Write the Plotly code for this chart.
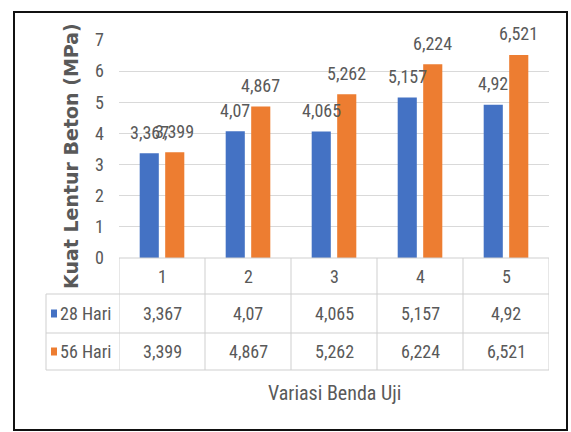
import plotly.graph_objects as go

# ---- data ----
categories = [1, 2, 3, 4, 5]
cat_labels = ["1", "2", "3", "4", "5"]
series_names = ["28 Hari", "56 Hari"]
hari28 = [3.367, 4.07, 4.065, 5.157, 4.92]
hari56 = [3.399, 4.867, 5.262, 6.224, 6.521]
y_ticks = [0, 1, 2, 3, 4, 5, 6, 7]
y_title = "Kuat Lentur Beton (MPa)"
x_title = "Variasi Benda Uji"

# ---- style ----
BLUE = "#4472C4"
ORANGE = "#ED7D31"
TXT = "#595959"
GRID = "#D9D9D9"
TLINE = "#CFCFCF"
NARROW = "Liberation Sans Narrow, Arial Narrow, Roboto Condensed, Roboto, sans-serif"

W, H = 571, 432
L, R, T, B = 119, 22, 40, 174
PW = W - L - R
PH = H - T - B


def px(x):
    return (x - L) / PW


def py(y):
    return (H - B - y) / PH


def fmt(v):
    return str(v).replace(".", ",")


fig = go.Figure()
for name, vals, col in [(series_names[0], hari28, BLUE), (series_names[1], hari56, ORANGE)]:
    fig.add_trace(go.Bar(x=categories, y=vals, name=name, marker=dict(color=col, line_width=0),
                         showlegend=False, hoverinfo="skip"))

annotations = []
shapes = []
# data labels
for vals, dx in [(hari28, -12.75), (hari56, 12.75)]:
    for c, v in zip(categories, vals):
        annotations.append(dict(x=c, y=v, xref="x", yref="y", text=fmt(v), showarrow=False,
                                xshift=dx, yshift=21, xanchor="center", yanchor="middle",
                                font=dict(family=NARROW, size=18, color=TXT)))

# data table
row_top = [258, 294, 333, 370]
y_rows = [py(v) for v in row_top]
shapes.append(dict(type="line", xref="x", yref="paper", x0=0.5, x1=5.5, y0=y_rows[0], y1=y_rows[0],
                   line=dict(color=TLINE, width=1)))
for yy in y_rows[1:]:
    shapes.append(dict(type="line", xref="paper", yref="paper", x0=px(46), x1=1, y0=yy, y1=yy,
                       line=dict(color=TLINE, width=1)))
for i in range(6):
    shapes.append(dict(type="line", xref="x", yref="paper", x0=0.5 + i, x1=0.5 + i,
                       y0=y_rows[0], y1=y_rows[3], line=dict(color=TLINE, width=1)))
shapes.append(dict(type="line", xref="paper", yref="paper", x0=px(46), x1=px(46),
                   y0=y_rows[1], y1=y_rows[3], line=dict(color=TLINE, width=1)))

row_centers = [(row_top[k] + row_top[k + 1]) / 2 for k in range(3)]
for c, lab in zip(categories, cat_labels):
    annotations.append(dict(x=c, y=py(row_centers[0]), xref="x", yref="paper", text=lab,
                            showarrow=False, xanchor="center", yanchor="middle",
                            font=dict(family=NARROW, size=18, color=TXT)))
for k, (vals, col, name) in enumerate([(hari28, BLUE, series_names[0]), (hari56, ORANGE, series_names[1])]):
    yc = row_centers[k + 1]
    for c, v in zip(categories, vals):
        annotations.append(dict(x=c, y=py(yc), xref="x", yref="paper", text=fmt(v),
                                showarrow=False, xanchor="center", yanchor="middle",
                                font=dict(family=NARROW, size=18, color=TXT)))
    shapes.append(dict(type="rect", xref="paper", yref="paper", x0=px(51), x1=px(57),
                       y0=py(yc + 4), y1=py(yc - 4), fillcolor=col, line_width=0))
    annotations.append(dict(x=px(58), y=py(yc), xref="paper", yref="paper", text=name,
                            showarrow=False, xanchor="left", yanchor="middle",
                            font=dict(family=NARROW, size=18, color=TXT)))

# axis titles
annotations.append(dict(x=px(334), y=py(393), xref="paper", yref="paper", text=x_title,
                        showarrow=False, xanchor="center", yanchor="middle",
                        font=dict(family=NARROW, size=20, color=TXT)))
annotations.append(dict(x=px(71), y=py(156), xref="paper", yref="paper", text=y_title,
                        showarrow=False, textangle=-90, xanchor="center", yanchor="middle",
                        font=dict(family="DejaVu Sans, sans-serif", size=19, color=TXT, weight="bold")))

# outer frame
shapes.append(dict(type="rect", xref="paper", yref="paper", x0=px(14), x1=px(567),
                   y0=py(430), y1=py(12), line=dict(color="#111111", width=2), layer="above"))

fig.update_layout(
    width=W, height=H,
    margin=dict(l=L, r=R, t=T, b=B),
    paper_bgcolor="white", plot_bgcolor="white",
    barmode="group", bargap=0.407, bargroupgap=0.25,
    xaxis=dict(range=[0.5, 5.5], showticklabels=False, showgrid=False, zeroline=False,
               showline=False, ticks=""),
    yaxis=dict(range=[0, 7], tickvals=y_ticks, showgrid=True, gridcolor=GRID, gridwidth=1,
               zeroline=False, showline=False, ticks="", ticklabelstandoff=14,
               tickfont=dict(family=NARROW, size=18, color=TXT)),
    annotations=annotations,
    shapes=shapes,
)

fig.write_html("out.html")
